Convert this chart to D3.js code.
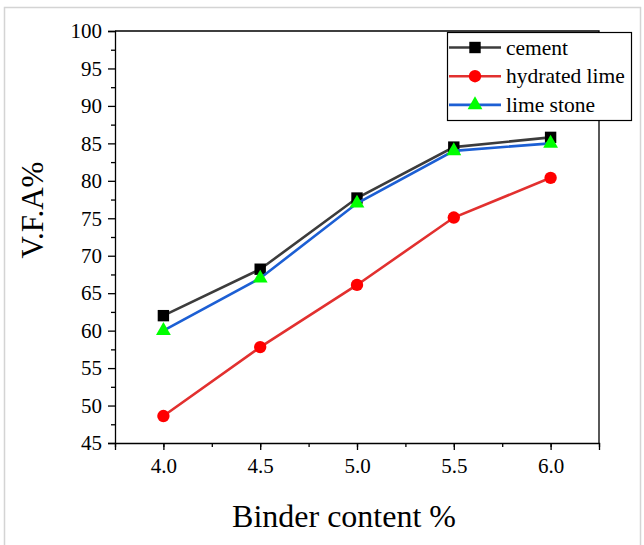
<!DOCTYPE html>
<html>
<head>
<meta charset="utf-8">
<script src="https://cdn.jsdelivr.net/npm/d3@7"></script>
<style>
    body { margin: 0; background: #fff; }
    svg { display: block; }
</style>
</head>
<body>
<div id="chart"></div>
<script>
(function() {
    // data
    var binder = [4.0, 4.5, 5.0, 5.5, 6.0];
    var cement = [62.0, 68.2, 77.7, 84.5, 85.8];
    var hydratedLime = [48.6, 57.8, 66.1, 75.1, 80.4];
    var limeStone = [60.0, 67.0, 77.0, 84.0, 85.0];

    var xTicks = [4.0, 4.5, 5.0, 5.5, 6.0];
    var yTicks = [45, 50, 55, 60, 65, 70, 75, 80, 85, 90, 95, 100];

    var series = [
        { name: "cement", values: cement, line: "#3c3c3c", fill: "#000000", symbol: "square" },
        { name: "hydrated lime", values: hydratedLime, line: "#e2302f", fill: "#ff0000", symbol: "circle" },
        { name: "lime stone", values: limeStone, line: "#1c5fd4", fill: "#00ff00", symbol: "triangle" }
    ];

    var W = 644, H = 545,
        margin = { top: 31, left: 115, right: 45, bottom: 102 },
        width = W - margin.left - margin.right,
        height = H - margin.top - margin.bottom;

    var font = "'Liberation Serif', 'Times New Roman', serif";

    var svg = d3.select("#chart")
        .append("svg")
        .attr("width", W)
        .attr("height", H);

    // light grey frame round the whole picture
    svg.append("rect")
        .attr("x", 4.5).attr("y", 7.5)
        .attr("width", 636).attr("height", 560)
        .attr("fill", "none")
        .attr("stroke", "#d4d4d4")
        .attr("stroke-width", 1.5);

    var g = svg.append("g")
        .attr("transform", "translate(" + margin.left + "," + margin.top + ")");

    var x = d3.scaleLinear().domain([3.75, 6.25]).range([0, width]);
    var y = d3.scaleLinear().domain([45, 100]).range([height, 0]);

    // frame (top and right)
    g.append("path")
        .attr("d", "M0,0H" + width + "V" + height)
        .attr("fill", "none")
        .attr("stroke", "#000")
        .attr("stroke-width", 1.3);

    // minor ticks
    g.append("g")
        .attr("transform", "translate(0," + height + ")")
        .call(d3.axisBottom(x).tickValues(d3.range(3.75, 6.26, 0.25)).tickSize(4).tickFormat(""))
        .call(s => s.select(".domain").remove());
    g.append("g")
        .call(d3.axisLeft(y).tickValues(d3.range(47.5, 100, 5)).tickSize(4).tickFormat(""))
        .call(s => s.select(".domain").remove());

    var xAxis = g.append("g")
        .attr("transform", "translate(0," + height + ")")
        .call(d3.axisBottom(x).tickValues(xTicks).tickSize(7).tickPadding(8).tickFormat(d3.format(".1f")));
    var yAxis = g.append("g")
        .call(d3.axisLeft(y).tickValues(yTicks).tickSize(7).tickPadding(6).tickFormat(d3.format("d")));

    [xAxis, yAxis].forEach(function(a) {
        a.selectAll("path, line").attr("stroke", "#000").attr("stroke-width", 1.3);
        a.selectAll("text")
            .attr("font-family", font)
            .attr("font-size", 21)
            .attr("fill", "#000");
    });
    g.selectAll(".tick line").attr("stroke", "#000").attr("stroke-width", 1.3);

    var line = d3.line()
        .x((d, i) => x(binder[i]))
        .y(d => y(d));

    function symbolPath(type) {
        if (type === "square") return d3.symbol(d3.symbolSquare, 130)();
        if (type === "circle") return d3.symbol(d3.symbolCircle, 120)();
        return d3.symbol(d3.symbolTriangle, 95)();
    }

    series.forEach(function(s) {
        g.append("path")
            .datum(s.values)
            .attr("d", line)
            .attr("fill", "none")
            .attr("stroke", s.line)
            .attr("stroke-width", 2.6);

        g.selectAll(".pt-" + s.symbol)
            .data(s.values)
            .enter().append("path")
            .attr("class", "pt-" + s.symbol)
            .attr("transform", (d, i) => "translate(" + x(binder[i]) + "," + y(d) + ")")
            .attr("d", symbolPath(s.symbol))
            .attr("fill", s.fill);
    });

    // legend
    var legend = svg.append("g").attr("transform", "translate(447,32)");
    legend.append("rect")
        .attr("x", 0.5).attr("y", 0.5)
        .attr("width", 184).attr("height", 88)
        .attr("fill", "#fff")
        .attr("stroke", "#000")
        .attr("stroke-width", 1.2);

    series.forEach(function(s, i) {
        var ly = 15.5 + i * 28.7;
        legend.append("line")
            .attr("x1", 2).attr("x2", 54)
            .attr("y1", ly).attr("y2", ly)
            .attr("stroke", s.line)
            .attr("stroke-width", 2.6);
        legend.append("path")
            .attr("transform", "translate(28," + ly + ")")
            .attr("d", symbolPath(s.symbol))
            .attr("fill", s.fill);
        legend.append("text")
            .attr("x", 59)
            .attr("y", ly + 7)
            .attr("font-family", font)
            .attr("font-size", 21.5)
            .text(s.name);
    });

    // axis titles
    svg.append("text")
        .attr("x", 344)
        .attr("y", 527)
        .attr("text-anchor", "middle")
        .attr("font-family", font)
        .attr("font-size", 32)
        .text("Binder content %");

    svg.append("text")
        .attr("transform", "translate(43,210) rotate(-90)")
        .attr("text-anchor", "middle")
        .attr("font-family", font)
        .attr("font-size", 31)
        .text("V.F.A%");
})();
</script>
</body>
</html>
